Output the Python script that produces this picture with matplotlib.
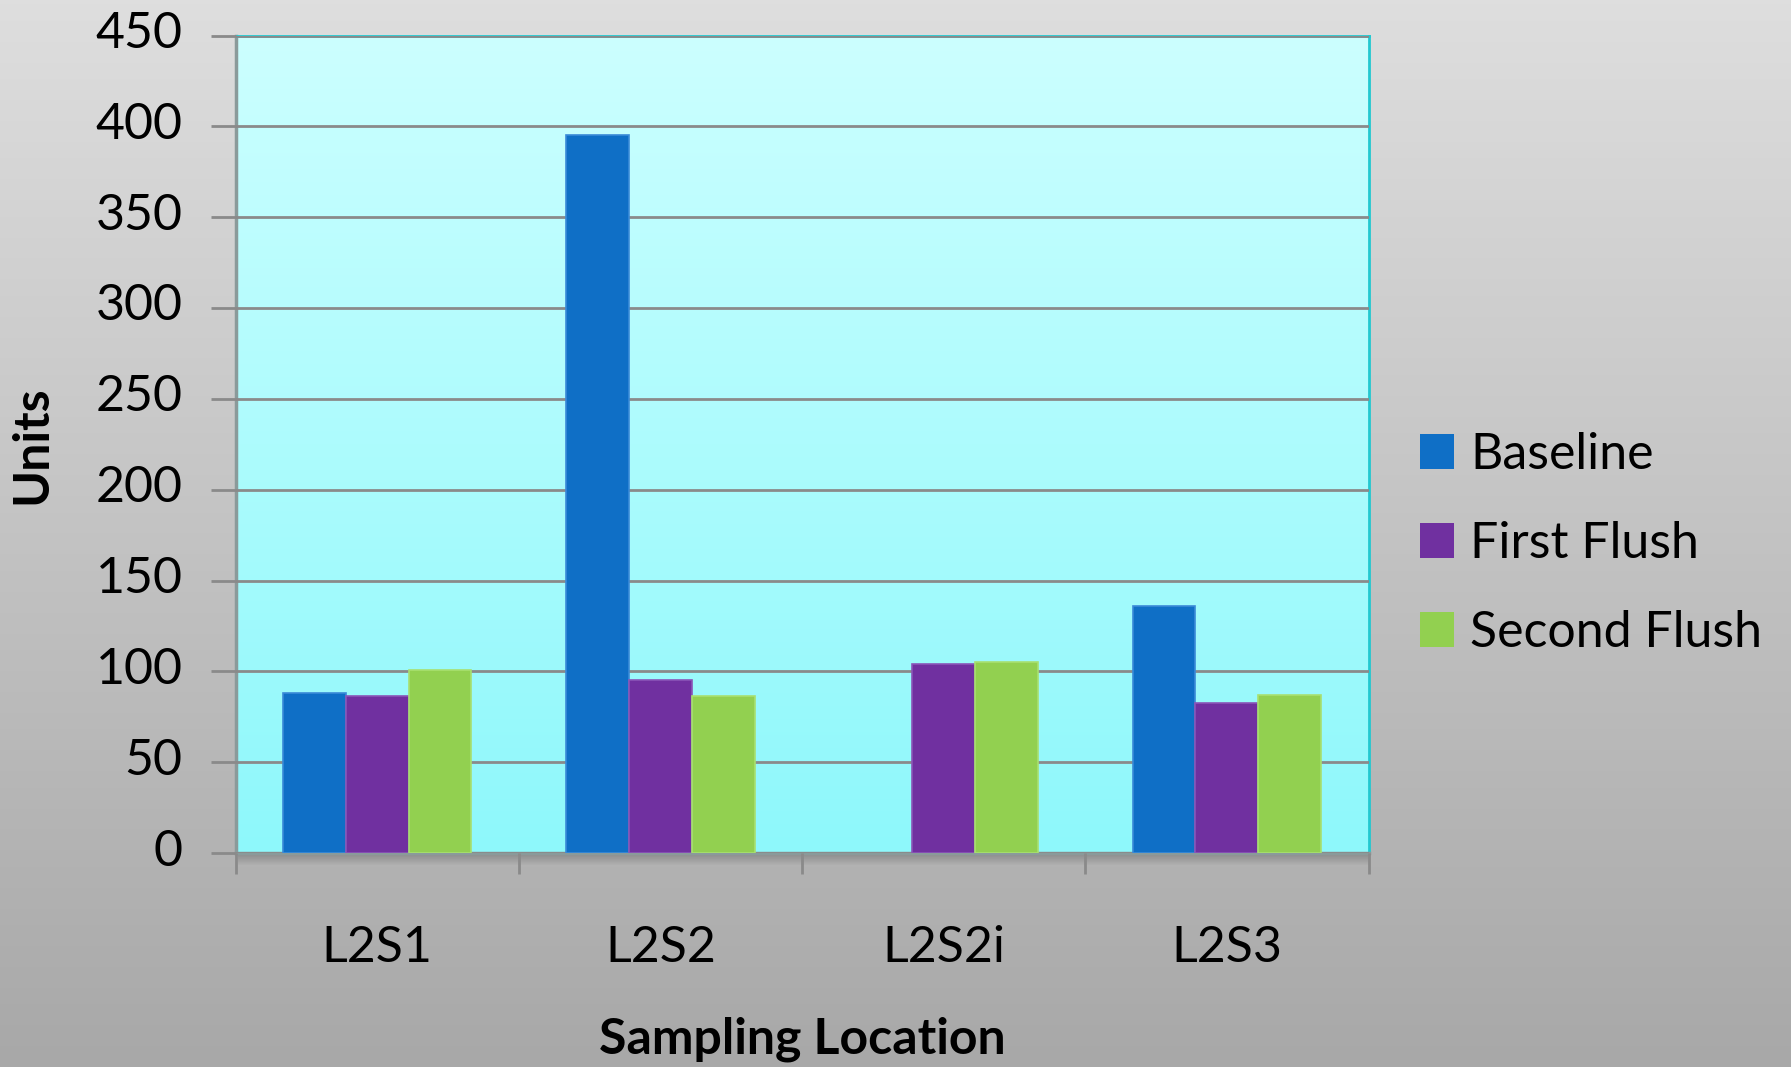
import numpy as np
import matplotlib
matplotlib.use("Agg")
import matplotlib.pyplot as plt
from matplotlib.patches import Patch, Rectangle
from matplotlib.transforms import ScaledTranslation

categories = ["L2S1", "L2S2", "L2S2i", "L2S3"]
series_names = ["Baseline", "First Flush", "Second Flush"]
baseline = [88, 395, np.nan, 136]
first_flush = [86.5, 95.5, 104, 82.5]
second_flush = [101, 86.5, 105, 87]
yticks = [0, 50, 100, 150, 200, 250, 300, 350, 400, 450]

colors = ["#0f6fc6", "#7030a0", "#92d050"]
edges = ["#3a8ad8", "#8a55b8", "#a8e070"]

plt.rcParams["font.family"] = ["Lato", "DejaVu Sans"]
fs = 36

W, H = 1791, 1067
fig = plt.figure(figsize=(W / 100, H / 100), dpi=100)

# figure background gradient
bg = fig.add_axes([0, 0, 1, 1], zorder=-10)
grad = np.linspace(0, 1, 256).reshape(-1, 1)
bg_cmap = matplotlib.colors.LinearSegmentedColormap.from_list("bg", ["#dedede", "#a8a8a8"])
bg.imshow(grad, aspect="auto", cmap=bg_cmap, extent=[0, 1, 0, 1], origin="upper")
bg.set_axis_off()

left, right = 235.5 / W, 1368.5 / W
top, bottom = 1 - 35.5 / H, 1 - 853 / H

# shadow under plot area
for i in range(12):
    bg.add_patch(Rectangle((left + 2 / W, bottom - (i + 1) / H), right - left, 1 / H,
                           color="black", alpha=0.22 * (1 - i / 12), lw=0,
                           transform=bg.transAxes))

ax = fig.add_axes([left, bottom, right - left, top - bottom])
ax.set_xlim(-0.5, len(categories) - 0.5)
ax.set_ylim(0, 450)

pa_cmap = matplotlib.colors.LinearSegmentedColormap.from_list("pa", ["#ccffff", "#8ef8fb"])
ax.imshow(grad, aspect="auto", cmap=pa_cmap, extent=[-0.5, len(categories) - 0.5, 0, 450],
          origin="upper", zorder=0)

x = np.arange(len(categories))
bw = 0.222
for i, (vals, c, e) in enumerate(zip([baseline, first_flush, second_flush], colors, edges)):
    ax.bar(x + (i - 1) * bw, vals, width=bw, color=c, edgecolor=e, linewidth=1.2,
           zorder=3, label=series_names[i])

ax.set_yticks(yticks)
ax.set_yticklabels([str(v) for v in yticks], fontsize=fs)
ax.yaxis.grid(True, color="#8a8a8a", linewidth=2, zorder=1)
ax.set_axisbelow(False)
ax.tick_params(axis="y", length=18, width=2, color="#8a8a8a", pad=20, direction="out")
for lab in ax.get_yticklabels():
    lab.set_transform(lab.get_transform() + ScaledTranslation(0, 6 / 100, fig.dpi_scale_trans))

ax.set_xticks(x)
ax.set_xticklabels(categories, fontsize=fs)
ax.tick_params(axis="x", which="major", length=0, pad=52)
ax.set_xticks(np.arange(-0.5, len(categories)), minor=True)
ax.tick_params(axis="x", which="minor", length=15, width=2, color="#8a8a8a", direction="out")

for s in ["left", "bottom"]:
    ax.spines[s].set_color("#8a9a9a")
    ax.spines[s].set_linewidth(2.5)
for s in ["top", "right"]:
    ax.spines[s].set_color("#22c8d0")
    ax.spines[s].set_linewidth(2)

ax.set_ylabel("Units", fontsize=fs, fontweight="bold", va="center", ha="center")
ax.yaxis.set_label_coords(-0.18, 0.5)
ax.set_xlabel("Sampling Location", fontsize=fs, fontweight="bold", va="center")
ax.xaxis.set_label_coords(0.5, -0.2275)

handles = [Patch(facecolor=c, edgecolor="none") for c in colors]
fig.legend(handles, series_names, loc="center left", bbox_to_anchor=(1375 / W, 1 - 544 / H),
           frameon=False, fontsize=fs, handlelength=0.68, handleheight=0.68,
           handletextpad=0.32, labelspacing=0.86)

fig.savefig("out.png", dpi=100)
